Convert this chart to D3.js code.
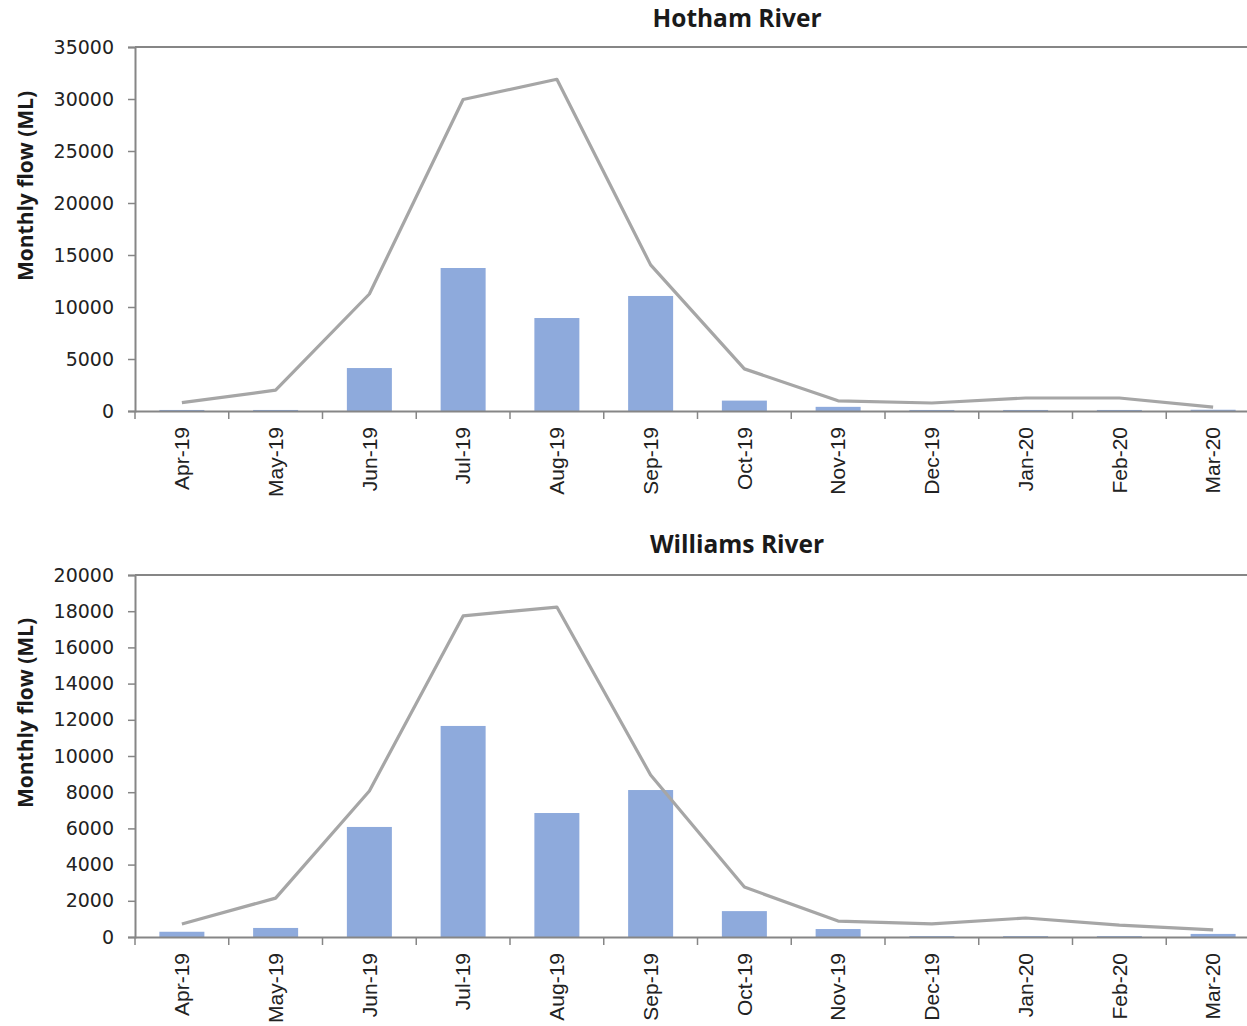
<!DOCTYPE html>
<html>
<head>
<meta charset="utf-8">
<script src="https://cdn.jsdelivr.net/npm/d3@7"></script>
<style>
  html, body { margin: 0; padding: 0; background: #fff; }
  svg { display: block; }
</style>
</head>
<body>
<div id="app"></div>
<script>
const WIDTH = 1247;
const HEIGHT = 1026;

const months = ['Apr-19', 'May-19', 'Jun-19', 'Jul-19', 'Aug-19', 'Sep-19',
  'Oct-19', 'Nov-19', 'Dec-19', 'Jan-20', 'Feb-20', 'Mar-20'];

// Hotham River (ML)
const hothamBars = [100, 100, 4130, 13750, 8940, 11060, 1000, 400, 100, 100, 100, 120];
const hothamLine = [800, 2000, 11250, 29950, 31900, 14050, 4050, 980, 770, 1250, 1250, 380];
const hothamTicks = [0, 5000, 10000, 15000, 20000, 25000, 30000, 35000];

// Williams River (ML)
const williamsBars = [290, 500, 6080, 11660, 6850, 8120, 1430, 440, 50, 50, 50, 170];
const williamsLine = [720, 2150, 8070, 17740, 18230, 8950, 2760, 880, 720, 1050, 660, 390];
const williamsTicks = [0, 2000, 4000, 6000, 8000, 10000, 12000, 14000, 16000, 18000, 20000];

const BAR_COLOR = '#8eaadc';
const LINE_COLOR = '#a6a6a6';
const AXIS_COLOR = '#868686';

const svg = d3.select('#app')
  .append('svg')
  .attr('width', WIDTH)
  .attr('height', HEIGHT);

function drawChart(opts) {
  const { title, bars, line, ticks, top, bottom, titleY, labelY } = opts;
  const left = 135;
  const right = 1260; // plot runs a little past the picture edge

  const x = d3.scaleBand().domain(months).range([left, right]).paddingInner(0.52).paddingOuter(0.26);
  const xc = d3.scaleBand().domain(months).range([left, right]);
  const y = d3.scaleLinear().domain([0, d3.max(ticks)]).range([bottom, top]);

  const g = svg.append('g');

  // plot frame top line
  g.append('line')
    .attr('x1', left).attr('x2', right)
    .attr('y1', top).attr('y2', top)
    .attr('stroke', AXIS_COLOR).attr('stroke-width', 2);

  // bars
  g.selectAll('rect.bar')
    .data(months)
    .join('rect')
    .attr('class', 'bar')
    .attr('x', d => x(d))
    .attr('width', x.bandwidth())
    .attr('y', (d, i) => y(bars[i]))
    .attr('height', (d, i) => y(0) - y(bars[i]))
    .attr('fill', BAR_COLOR);

  // line
  const lineGen = d3.line()
    .x((d, i) => xc(months[i]) + xc.bandwidth() / 2)
    .y(d => y(d));

  g.append('path')
    .datum(line)
    .attr('d', lineGen)
    .attr('fill', 'none')
    .attr('stroke', LINE_COLOR)
    .attr('stroke-width', 3.2)
    .attr('stroke-linejoin', 'round');

  // y axis
  const yAxis = g.append('g')
    .attr('transform', `translate(${left},0)`)
    .call(d3.axisLeft(y).tickValues(ticks).tickSize(7).tickPadding(14).tickFormat(d3.format('d')));
  yAxis.select('.domain').attr('stroke', AXIS_COLOR).attr('stroke-width', 2);
  yAxis.selectAll('.tick line').attr('stroke', AXIS_COLOR).attr('stroke-width', 1.5);
  yAxis.selectAll('.tick text')
    .attr('fill', '#222')
    .style('font-family', '"DejaVu Sans", sans-serif')
    .style('font-size', '19px');

  // x axis
  const xAxis = g.append('g')
    .attr('transform', `translate(0,${bottom})`)
    .call(d3.axisBottom(xc).tickSize(0).tickSizeOuter(0));
  xAxis.select('.domain').attr('stroke', AXIS_COLOR).attr('stroke-width', 2);
  xAxis.selectAll('.tick text')
    .attr('fill', '#222')
    .attr('transform', 'rotate(-90)')
    .attr('text-anchor', 'end')
    .attr('x', -16)
    .attr('y', 0)
    .attr('dy', '0.35em')
    .style('font-family', '"Liberation Sans", Arial, sans-serif')
    .style('font-size', '21px');

  // category boundary ticks
  g.selectAll('line.boundary')
    .data(months)
    .join('line')
    .attr('class', 'boundary')
    .attr('x1', d => xc(d)).attr('x2', d => xc(d))
    .attr('y1', bottom).attr('y2', bottom + 8)
    .attr('stroke', AXIS_COLOR).attr('stroke-width', 1.5);

  // title
  g.append('text')
    .attr('x', 737)
    .attr('y', titleY)
    .attr('text-anchor', 'middle')
    .attr('fill', '#1a1a1a')
    .style('font-family', '"Open Sans", sans-serif')
    .style('font-weight', 'bold')
    .style('font-size', '24.5px')
    .text(title);

  // y label
  g.append('text')
    .attr('transform', `translate(33,${labelY}) rotate(-90)`)
    .attr('text-anchor', 'middle')
    .attr('fill', '#1a1a1a')
    .style('font-family', '"Open Sans", sans-serif')
    .style('font-weight', 'bold')
    .style('font-size', '21px')
    .text('Monthly flow (ML)');
}

drawChart({
  title: 'Hotham River', bars: hothamBars, line: hothamLine, ticks: hothamTicks,
  top: 47, bottom: 411, titleY: 27, labelY: 186
});

drawChart({
  title: 'Williams River', bars: williamsBars, line: williamsLine, ticks: williamsTicks,
  top: 575, bottom: 937, titleY: 553, labelY: 713
});
</script>
</body>
</html>
